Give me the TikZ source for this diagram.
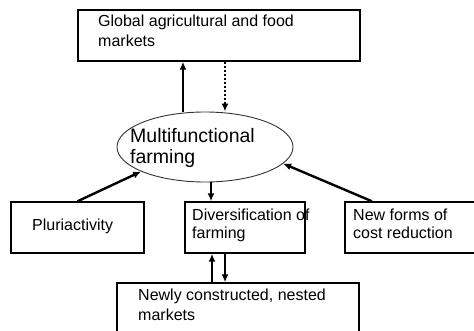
\documentclass[tikz,border=0pt]{standalone}
\usepackage{fontspec}
\setmainfont{Liberation Sans}
\usetikzlibrary{shapes.geometric,arrows.meta}
\begin{document}
\begin{tikzpicture}[x=1pt,y=-1pt,
  box/.style={draw, line width=1.4pt, rectangle, inner sep=0pt},
  lbl/.style={anchor=base west, inner sep=0pt, font=\fontsize{16}{19}\selectfont},
  biglbl/.style={anchor=base west, inner sep=0pt, font=\fontsize{19.5}{23}\selectfont},
  flow/.style={-{Latex[length=8pt,width=7pt]}, line width=2.4pt},
  dotflow/.style={flow, dash pattern=on 2pt off 2pt}]
\useasboundingbox (0,0) rectangle (474,331);

% boxes
\node[box, minimum width=282pt, minimum height=51pt] (global) at (219,35.5) {};
\node[box, minimum width=133pt, minimum height=51pt] (pluri) at (77.5,227.5) {};
\node[box, minimum width=120pt, minimum height=51pt] (div) at (245,227.5) {};
\node[box, minimum width=145pt, minimum height=51pt] (cost) at (417.5,227.5) {};
\node[box, minimum width=242pt, minimum height=62pt] (nested) at (238,314) {};
\node[ellipse, draw=black!80, line width=0.9pt, minimum width=176pt, minimum height=70pt, inner sep=0pt] (mf) at (205,147) {};

% labels
\node[lbl] (global1) at (98,27) {Global agricultural and food};
\node[lbl] (global2) at (98,47) {markets};
\node[biglbl] (mf1) at (130,143) {Multifunctional};
\node[biglbl] (mf2) at (130,164) {farming};
\node[lbl] (pluri1) at (32,230.5) {Pluriactivity};
\node[lbl] (div1) at (192,221) {Diversification of};
\node[lbl] (div2) at (192,239) {farming};
\node[lbl] (cost1) at (353,221) {New forms of};
\node[lbl] (cost2) at (353,239) {cost reduction};
\node[lbl] (nested1) at (138,300) {Newly constructed, nested};
\node[lbl] (nested2) at (138,320) {markets};

% connectors
\draw[flow] (mf.north -| 183,0) -- (global.south -| 183,0);
\draw[dotflow] (global.south -| 225,0) -- (mf.north -| 225,0);
\draw[flow] (pluri.north) -- (mf.201);
\draw[flow] (cost.north -| 372,0) -- (mf.-12);
\draw[flow] (mf.south -| 211,0) -- (div.north -| 211,0);
\draw[flow] (nested.north -| 212,0) -- (div.south -| 212,0);
\draw[flow] (div.south -| 225,0) -- (nested.north -| 225,0);
\end{tikzpicture}
\end{document}
